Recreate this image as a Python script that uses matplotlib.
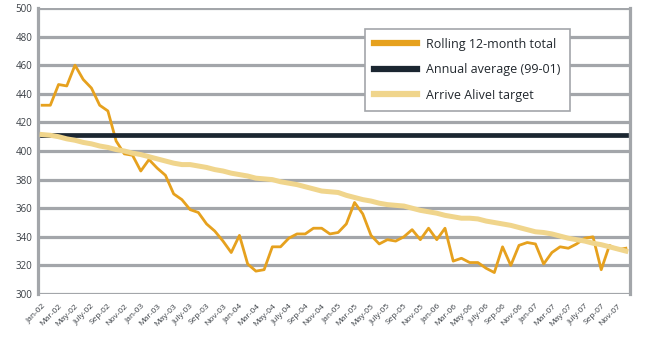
import matplotlib
matplotlib.use("Agg")
import matplotlib.pyplot as plt

# monthly data Jan-02 .. Dec-07
months = []
for yr in ["02", "03", "04", "05", "06", "07"]:
    for m in ["Jan", "Feb", "Mar", "Apr", "May", "Jun",
              "July", "Aug", "Sep", "Oct", "Nov", "Dec"]:
        months.append(m + "-" + yr)

rolling = [432, 432, 446.5, 445.5, 460, 450, 444, 432, 428, 407, 398, 397,
           386, 394, 388, 383, 370, 366, 359, 357, 349, 344, 337, 329,
           341, 321, 316, 317, 333, 333, 339, 342, 342, 346, 346, 342,
           343, 349, 364, 356, 341, 335, 338, 337, 340, 345, 338, 346,
           338, 346, 323, 325, 322, 322, 318, 315, 333, 320, 334, 336,
           335, 321, 329, 333, 332, 335, 339, 340, 317, 334, 331, 332]

annual_avg = [411] * 72

target = [411.5, 411, 410, 408.5, 407.5, 406, 405, 403.5, 402.5, 401, 400, 398.5,
          397.5, 396, 394.5, 393, 391.5, 390.5, 390.5, 389.5, 388.5, 387, 386, 384.5,
          383.5, 382.5, 381, 380.5, 380, 378.5, 377.5, 376.5, 375, 373.5, 372, 371.5,
          371, 369, 367.5, 366, 365, 363.5, 362.5, 362, 361.5, 360, 358.5, 357.5,
          356.5, 355, 354, 353, 353, 352.5, 351, 350, 349, 348, 346.5, 345,
          343.5, 343, 342, 340.5, 339, 338, 337, 335.5, 334.5, 333, 331.5, 330]

plt.rcParams['font.family'] = ['Open Sans', 'DejaVu Sans']

fig = plt.figure(figsize=(6.46, 3.42), dpi=100)
ax = fig.add_axes([38 / 646, 1 - 294 / 342, 592 / 646, 286 / 342])

x = list(range(len(months)))
ax.plot(x, rolling, color="#E6A11E", lw=2.0, label="Rolling 12-month total", zorder=3)
ax.plot(x, annual_avg, color="#1B2631", lw=3.4, label="Annual average (99-01)",
        solid_capstyle="projecting", zorder=3)
ax.plot(x, target, color="#F0D58C", lw=3.6, label="Arrive Alive! target", zorder=4)

ax.set_xlim(-0.5, 71.5)
ax.set_ylim(300, 500)
ax.set_yticks(range(300, 501, 20))
ax.yaxis.grid(True, color="#A3A6AA", lw=2.3, zorder=1)
ax.set_axisbelow(True)

for s in ["top", "bottom"]:
    ax.spines[s].set_visible(False)
for s in ["left", "right"]:
    ax.spines[s].set_color("#A3A6AA")
    ax.spines[s].set_linewidth(2.3)

ax.tick_params(axis="y", length=0, pad=4, labelsize=7, labelcolor="#3A3F45")
ax.set_xticks(x[::2])
ax.set_xticklabels(months[::2], rotation=45, ha="right", rotation_mode="anchor",
                   fontsize=6, color="#3A3F45")
ax.tick_params(axis="x", length=0, pad=6)

leg = ax.legend(loc="upper left", bbox_to_anchor=(321 / 592, 0.948), fontsize=9,
                frameon=True, fancybox=False, edgecolor="#A3A6AA", framealpha=1,
                handlelength=3.4, handletextpad=0.8, labelspacing=1.0,
                borderpad=0.7, labelcolor="#22282E")
leg.get_frame().set_linewidth(1.2)
for line in leg.get_lines():
    line.set_linewidth(4.5)

fig.savefig("out.png", dpi=100)
